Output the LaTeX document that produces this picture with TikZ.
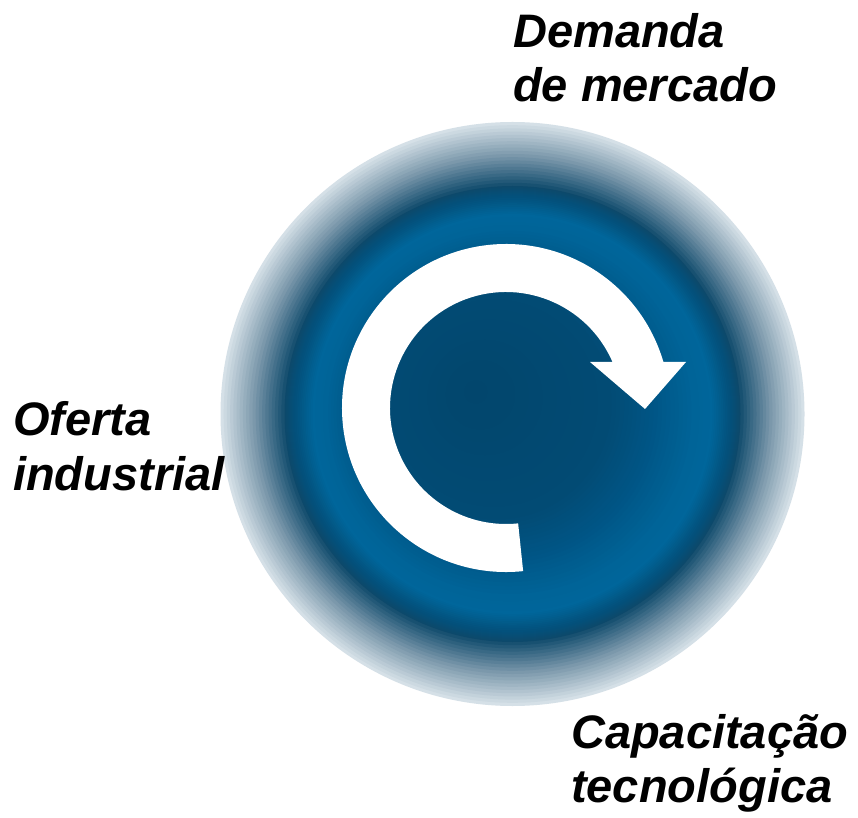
\documentclass[tikz,border=0pt]{standalone}
\usepackage{fontspec}
\setmainfont{Liberation Sans}
\definecolor{c1}{HTML}{D5E0E7}
\definecolor{c2}{HTML}{7B98AB}
\definecolor{c3}{HTML}{0D496B}
\definecolor{c4}{HTML}{03517C}
\definecolor{c5}{HTML}{00669B}
\definecolor{c6}{HTML}{006498}
\definecolor{c7}{HTML}{005585}
\definecolor{c8}{HTML}{024B74}
\definecolor{c9}{HTML}{02466C}
\begin{document}
\begin{tikzpicture}[x=1pt,y=1pt,
  lbl/.style={font=\fontsize{47}{54}\selectfont\bfseries\itshape, align=left, inner sep=0pt, anchor=base west, text=black},
  arrowshape/.style={fill=white, draw=none}]
\useasboundingbox[fill=white] (0,0) rectangle (858,817);
% banded radial disc
\foreach \ra/\rb/\ca/\cb in {292/260/c1/c2, 260/228/c2/c3, 228/218/c3/c4, 218/200/c4/c5, 200/185/c5/c6, 185/150/c6/c7, 150/115/c7/c8, 115/0/c8/c9}{
  \foreach \k in {0,...,9}{
    \pgfmathsetmacro\rr{\ra-(\ra-\rb)*\k/10}
    \pgfmathtruncatemacro\pp{\k*10}
    \pgfmathsetmacro\dd{max(0,195-\rr)}
    \fill[\cb!\pp!\ca] ({512.5-0.2*\dd},{403+0.12*\dd}) circle (\rr);
  }
}
% circular arrow
\coordinate (ac) at (506,409);
\path[arrowshape] ([shift={(276:164)}]ac) arc[start angle=276, end angle=16.3, radius=164]
  -- (686,455) -- (645,408) -- (590,455)
  -- ([shift={(23.4:116)}]ac) arc[start angle=23.4, end angle=276, radius=116] -- cycle;
% labels (base anchor = baseline of last line)
\node[lbl] (dem) at (513,715) {Demanda\\de mercado};
\node[lbl] (ofe) at (13,327) {Oferta\\industrial};
\node[lbl] (cap) at (571,15) {Capacitação\\tecnológica};
\end{tikzpicture}
\end{document}
